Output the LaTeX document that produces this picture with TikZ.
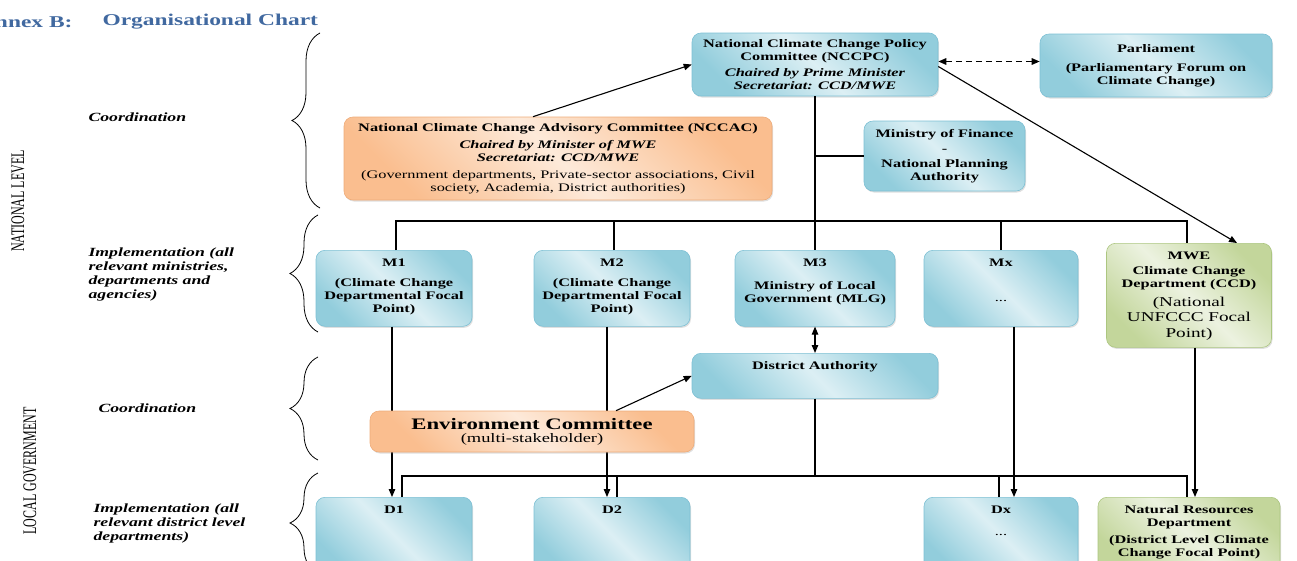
\documentclass[tikz,border=0pt]{standalone}
\usepackage{fontspec}
\setmainfont{Liberation Serif}[FakeStretch=1.42]
\newfontfamily\sidefont{Liberation Serif}
\usepackage{graphicx}
\usepackage{tikz}
\usetikzlibrary{positioning,arrows.meta,shadows,decorations.pathreplacing}
\definecolor{bluedark}{RGB}{146,205,220}
\definecolor{bluelight}{RGB}{220,239,244}
\definecolor{blueline}{RGB}{125,192,212}
\definecolor{orangedark}{RGB}{250,190,143}
\definecolor{orangelight}{RGB}{253,234,218}
\definecolor{orangeline}{RGB}{238,172,122}
\definecolor{greendark}{RGB}{195,214,155}
\definecolor{greenlight}{RGB}{236,242,224}
\definecolor{greenline}{RGB}{172,198,128}
\definecolor{titleblue}{RGB}{65,105,160}
\newcommand\toprows[1]{\begin{tabular}[t]{@{}c@{}}#1\end{tabular}}
\tikzset{
  box/.style={rounded corners=9pt, draw=#1line, line width=.6pt,
    left color=#1dark, right color=#1dark, shading angle=-45, middle color=#1light,
    drop shadow={shadow xshift=1pt,shadow yshift=-1.5pt,opacity=.25},
    font=\fontsize{11.5}{13}\selectfont\bfseries, align=center, inner sep=4pt},
  topbox/.style={anchor=north, align=none, inner ysep=6pt, text height=10pt, text depth=#1},
  conn/.style={line width=1.1pt},
  tip/.style={-{Triangle[length=8pt,width=6.5pt]}},
  arr/.style={conn, tip},
  side/.style={font=\fontsize{12.5}{14}\selectfont\bfseries\itshape, align=left, anchor=west},
  grp/.style={decorate, decoration={brace, amplitude=28pt}, line width=.8pt}
}
\begin{document}
\begin{tikzpicture}[x=1pt,y=-1pt]
  \useasboundingbox (0,0) rectangle (1297,560);
  \node[anchor=east, font=\fontsize{16.5}{20}\selectfont\bfseries, text=titleblue] (annex) at (76,22) {Annex B:};
  \node[anchor=west, font=\fontsize{16.5}{20}\selectfont\bfseries, text=titleblue] (title) at (99,22) {Organisational Chart};
  \node[rotate=90, font=\sidefont\fontsize{12}{14}\selectfont] (natlevel) at (18,201) {\scalebox{1}[1.6]{NATIONAL LEVEL}};
  \node[rotate=90, font=\sidefont\fontsize{12}{14}\selectfont] (locgov) at (30,471) {\scalebox{1}[1.6]{LOCAL GOVERNMENT}};
  \node[side] (coordnat) at (85,117) {Coordination};
  \node[side, anchor=north west] (implnat) at (85,244) {Implementation (all\\relevant ministries,\\departments and\\agencies)};
  \node[side] (coordloc) at (95,408) {Coordination};
  \node[side, anchor=north west] (implloc) at (90,500) {Implementation (all\\relevant district level\\departments)};
  \draw[grp] (320,208) -- (320,33);
  \draw[grp] (318,332) -- (318,215);
  \draw[grp] (318,460) -- (318,357);
  \draw[grp] (318,573) -- (318,473);

  \node[box=blue, minimum width=246pt, minimum height=63pt] (nccpc) at (815,64.5) {National Climate Change Policy\\Committee (NCCPC)\\[3pt]\textit{Chaired by Prime Minister}\\\textit{Secretariat: CCD/MWE}};
  \node[box=blue, minimum width=232pt, minimum height=63pt] (parl) at (1156,65.5) {Parliament\\[6pt](Parliamentary Forum on\\Climate Change)};
  \node[box=orange, minimum width=428pt, minimum height=83pt] (nccac) at (558,158.5) {National Climate Change Advisory Committee (NCCAC)\\[4pt]\textit{Chaired by Minister of MWE}\\\textit{Secretariat: CCD/MWE}\\[4pt]\mdseries (Government departments, Private-sector associations, Civil\\\mdseries society, Academia, District authorities)};
  \node[box=blue, minimum width=161pt, minimum height=70pt] (mof) at (944.5,156) {Ministry of Finance\\[2pt]-\\[2pt]National Planning\\Authority};
  \node[box=blue, topbox=54pt, minimum width=156pt] (m1) at (394,250) {\toprows{M1\\[7pt](Climate Change\\Departmental Focal\\Point)}};
  \node[box=blue, topbox=54pt, minimum width=156pt] (m2) at (612,250) {\toprows{M2\\[7pt](Climate Change\\Departmental Focal\\Point)}};
  \node[box=blue, topbox=54pt, minimum width=160pt] (m3) at (815,250) {\toprows{M3\\[10pt]Ministry of Local\\Government (MLG)}};
  \node[box=blue, topbox=54pt, minimum width=154pt] (mx) at (1001,250) {\toprows{Mx\\[22pt]\mdseries ...}};
  \node[box=green, topbox=82pt, minimum width=165pt] (mwe) at (1189,243) {\toprows{MWE\\[2pt]Climate Change\\Department (CCD)\\[6pt]\fontsize{13.5}{16}\selectfont\mdseries (National\\[2pt]\fontsize{13.5}{16}\selectfont\mdseries UNFCCC Focal\\[2pt]\fontsize{13.5}{16}\selectfont\mdseries Point)}};
  \node[box=blue, topbox=23pt, minimum width=246pt] (da) at (815,353) {District Authority};
  \node[box=blue, topbox=54pt, minimum width=156pt] (d1) at (394,497) {D1};
  \node[box=blue, topbox=54pt, minimum width=156pt] (d2) at (612,497) {D2};
  \node[box=blue, topbox=54pt, minimum width=154pt] (dx) at (1001,497) {\toprows{Dx\\[9pt]\mdseries ...}};
  \node[box=green, topbox=54pt, minimum width=182pt] (nrd) at (1189,497) {\toprows{Natural Resources\\Department\\[4pt](District Level Climate\\Change Focal Point)}};

  \coordinate (nbus) at (0,221);
  \coordinate (lbus) at (0,476);
  \draw[arr] ([xshift=-25pt]nccac.north) -- (nccpc.west);
  \draw[line width=1.5pt, dash pattern=on 6pt off 4pt, {Triangle[length=8pt,width=6.5pt]}-{Triangle[length=8pt,width=6.5pt]}] ([yshift=3pt]nccpc.east) -- ([yshift=3pt]nccpc.east -| parl.west);
  \draw[arr] ([yshift=-2pt]nccpc.east) -- ([xshift=48pt]mwe.north);
  \draw[conn] (nccpc.south) -- (m3.north);
  \draw[conn] (nccpc.south |- mof.west) -- (mof.west);
  \draw[conn] ([xshift=2pt]m1.north) -- ([xshift=2pt]m1.north |- nbus) -- ([xshift=-2pt]mwe.north |- nbus) -- ([xshift=-2pt]mwe.north);
  \draw[conn] ([xshift=2pt]m2.north) -- ([xshift=2pt]m2.north |- nbus);
  \draw[conn] (mx.north) -- (mx.north |- nbus);
  \draw[conn, {Triangle[length=8pt,width=6.5pt]}-{Triangle[length=8pt,width=6.5pt]}] (m3.south) -- (da.north);
  \draw[arr] ([xshift=-2pt]m1.south) -- ([xshift=-2pt]d1.north);
  \draw[arr] ([xshift=-5pt]m2.south) -- ([xshift=-5pt]d2.north);
  %% committee drawn after the lines so that it covers them
  \node[box=orange, minimum width=324pt, minimum height=41pt] (ec) at (532,431.5) {\fontsize{16}{16}\selectfont Environment Committee\\\fontsize{13}{16}\selectfont\mdseries (multi-stakeholder)};
  \draw[arr] ([xshift=84pt]ec.north) -- (da.west);
  \draw[conn] (da.south) -- (da.south |- lbus);
  \draw[conn] ([xshift=8pt]d1.north) -- ([xshift=8pt]d1.north |- lbus) -- ([xshift=-2pt]nrd.north |- lbus) -- ([xshift=-2pt]nrd.north);
  \draw[conn] ([xshift=5pt]d2.north) -- ([xshift=5pt]d2.north |- lbus);
  \draw[conn] ([xshift=-2pt]dx.north) -- ([xshift=-2pt]dx.north |- lbus);
  \draw[arr] ([xshift=13pt]mx.south) -- ([xshift=13pt]dx.north);
  \draw[arr] ([xshift=6pt]mwe.south) -- ([xshift=6pt]nrd.north);
\end{tikzpicture}
\end{document}
